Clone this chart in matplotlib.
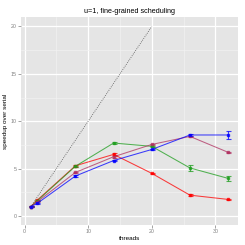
import matplotlib
matplotlib.use("Agg")
import matplotlib.pyplot as plt

plt.rcParams["font.family"] = ["Liberation Sans", "DejaVu Sans"]

# data
threads = [1, 2, 8, 14, 20, 26, 32]
red = [1.0, 1.67, 5.3, 6.5, 4.5, 2.2, 1.75]
red_err = [0.03, 0.05, 0.08, 0.1, 0.06, 0.08, 0.06]
green = [1.0, 1.6, 5.25, 7.7, 7.35, 5.07, 3.97]
green_err = [0.03, 0.05, 0.06, 0.06, 0.08, 0.35, 0.23]
purple = [1.0, 1.5, 4.6, 6.25, 7.55, 8.4, 6.72]
purple_err = [0.03, 0.05, 0.06, 0.08, 0.08, 0.08, 0.06]
blue = [1.0, 1.33, 4.22, 5.85, 7.02, 8.55, 8.55]
blue_err = [0.03, 0.05, 0.08, 0.08, 0.08, 0.1, 0.45]
ideal_x = [1, 20]
ideal_y = [1, 20]

fig = plt.figure(figsize=(2.45, 2.45), dpi=100)
ax = fig.add_axes([21/245, 20/245, 217/245, 208/245])
ax.set_facecolor("#E5E5E5")
for s in ax.spines.values():
    s.set_visible(False)

ax.plot(ideal_x, ideal_y, color="#555555", ls=(0, (1, 1.5)), lw=0.6, zorder=2)

series = [(red, red_err, "#FF0000"), (green, green_err, "#1E9E1E"),
          (purple, purple_err, "#B03060"), (blue, blue_err, "#0000FF")]
for ys, es, c in series:
    ax.errorbar(threads, ys, yerr=es, color=c, alpha=0.75, lw=0.75,
                marker="s", ms=1.8, elinewidth=0.8, capsize=1.8, capthick=0.8, zorder=3)

ax.set_xlim(-0.55, 33.55)
ax.set_ylim(-0.95, 21.0)
ax.set_xticks([0, 10, 20, 30])
ax.set_yticks([0, 5, 10, 15, 20])
ax.set_xticks([5, 15, 25], minor=True)
ax.set_yticks([2.5, 7.5, 12.5, 17.5], minor=True)
ax.grid(True, which="major", color="white", lw=0.9)
ax.grid(True, which="minor", color="#F2F2F2", lw=0.45)
ax.set_axisbelow(True)
ax.tick_params(which="major", length=2, width=0.5, color="#7F7F7F",
               labelsize=3.8, labelcolor="#7F7F7F", pad=1)
ax.tick_params(which="minor", length=0)

ax.set_xlabel("threads", fontsize=4.6, labelpad=1.5)
ax.set_ylabel("speedup over serial", fontsize=4.6, labelpad=2)
ax.set_title("u=1, fine-grained scheduling", fontsize=5.2, pad=3)

fig.savefig("out.png", dpi=100)
